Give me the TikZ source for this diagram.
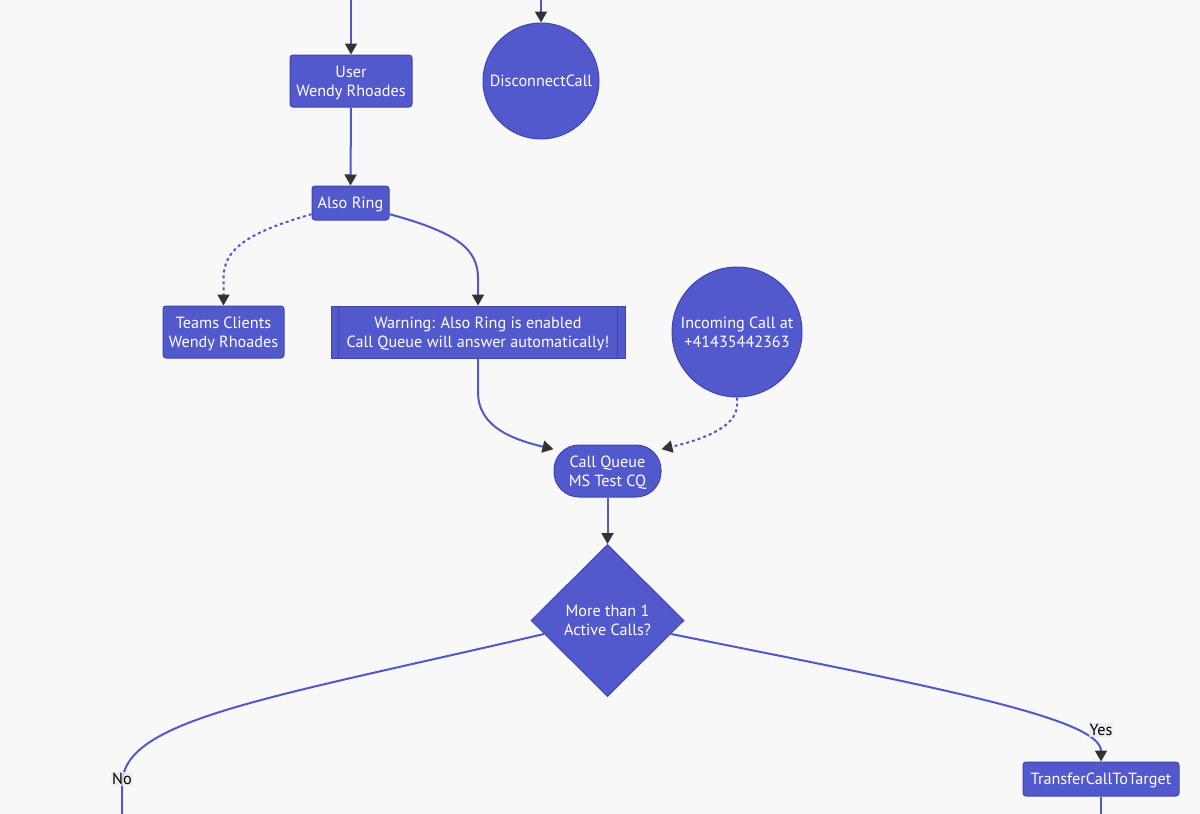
\documentclass[tikz,border=0pt]{standalone}
\usepackage{fontspec}
\setmainfont{PT Sans}
\usepackage{tikz}
\usetikzlibrary{arrows.meta, shapes.geometric, calc}

\definecolor{bg}{HTML}{F8F8F8}
\definecolor{nodefill}{HTML}{5159CC}
\definecolor{nodeline}{HTML}{3F46B0}
\definecolor{edge}{HTML}{5059C6}
\definecolor{tip}{HTML}{333333}

\tikzset{
  box/.style={draw=nodeline, fill=nodefill, text=white, rounded corners=3pt, line width=1pt, align=center, inner sep=0pt, text depth=0pt},
  roundbox/.style={circle, draw=nodeline, fill=nodefill, text=white, line width=1pt, align=center, inner sep=0pt, text depth=0pt},
  edgeline/.style={draw=edge, line width=2pt, -{Triangle[length=11pt, width=12pt, color=tip]}},
  dots/.style={dash pattern=on 3pt off 3pt},
  elabel/.style={fill=black!8, fill opacity=0.8, text opacity=1, inner sep=1pt, text=black}
}

\begin{document}
\begin{tikzpicture}[x=1pt,y=-1pt]
\fontsize{16.2}{19}\selectfont
\fill[bg] (0,0) rectangle (1200,814);
\useasboundingbox (0,0) rectangle (1200,814);

% free ends of the cut connectors
\coordinate (topuser) at (351,0);
\coordinate (topdisc) at (541,0);
\coordinate (nobottom) at (122,814);
\coordinate (transferbottom) at (1101,814);

% nodes
\node[box, minimum width=122, minimum height=52] (user) at (351,81) {User\\Wendy Rhoades};
\node[roundbox, minimum size=116] (disconnect) at (541,81) {DisconnectCall};
\node[box, minimum width=77, minimum height=34] (alsoring) at (350.5,203) {Also Ring};
\node[box, minimum width=121, minimum height=52] (teams) at (223.5,332) {Teams Clients\\Wendy Rhoades};
\node[box, rounded corners=0pt, minimum width=294, minimum height=52] (warning) at (478,332) {Warning: Also Ring is enabled\\Call Queue will answer automatically!};
\draw[nodeline, line width=1pt] ($(warning.north west)+(8,0)$) -- ($(warning.south west)+(8,0)$);
\draw[nodeline, line width=1pt] ($(warning.north east)+(-8,0)$) -- ($(warning.south east)+(-8,0)$);
\node[roundbox, minimum size=130] (incoming) at (737,332) {Incoming Call at\\+41435442363};
\node[box, rounded corners=25pt, minimum width=107, minimum height=52] (callqueue) at (607.5,471) {Call Queue\\MS Test CQ};
\node[diamond, draw=nodeline, fill=nodefill, text=white, line width=1pt, align=center, inner sep=0pt, text depth=0pt, minimum width=153, minimum height=152] (activecalls) at (607.5,620.5) {More than 1\\Active Calls?};
\node[box, minimum width=156, minimum height=34] (transfer) at (1101,779) {TransferCallToTarget};

% connectors
\draw[edgeline] (topuser) -- (user.north);
\draw[edgeline] (topdisc) -- (disconnect.north);
\draw[edgeline] (user.south) -- (alsoring.north);
\draw[edgeline, dots] (alsoring.196) .. controls (250,232) and (223.5,248) .. (223.5,278) -- (teams.north);
\draw[edgeline] (alsoring.-16) .. controls (455,232) and (478,248) .. (478,278) -- (warning.north);
\draw[edgeline] (warning.south) -- (478,392) .. controls (478,428) and (515,440) .. (callqueue.158);
\draw[edgeline, dots] (incoming.south) -- (737,405) .. controls (737,428) and (700,440) .. (callqueue.22);
\draw[edgeline] (callqueue.south) -- (activecalls.north);
\draw[draw=edge, line width=2pt] (activecalls.192) .. controls (260,700) and (122,720) .. (122,785) -- (nobottom);
\draw[edgeline] (activecalls.-12) .. controls (930,686) and (1101,718) .. (transfer.north);
\draw[draw=edge, line width=2pt] (transfer.south) -- (transferbottom);

% edge labels
\node[elabel] (nolabel) at (122,779) {No};
\node[elabel] (yeslabel) at (1101,730) {Yes};
\end{tikzpicture}
\end{document}
